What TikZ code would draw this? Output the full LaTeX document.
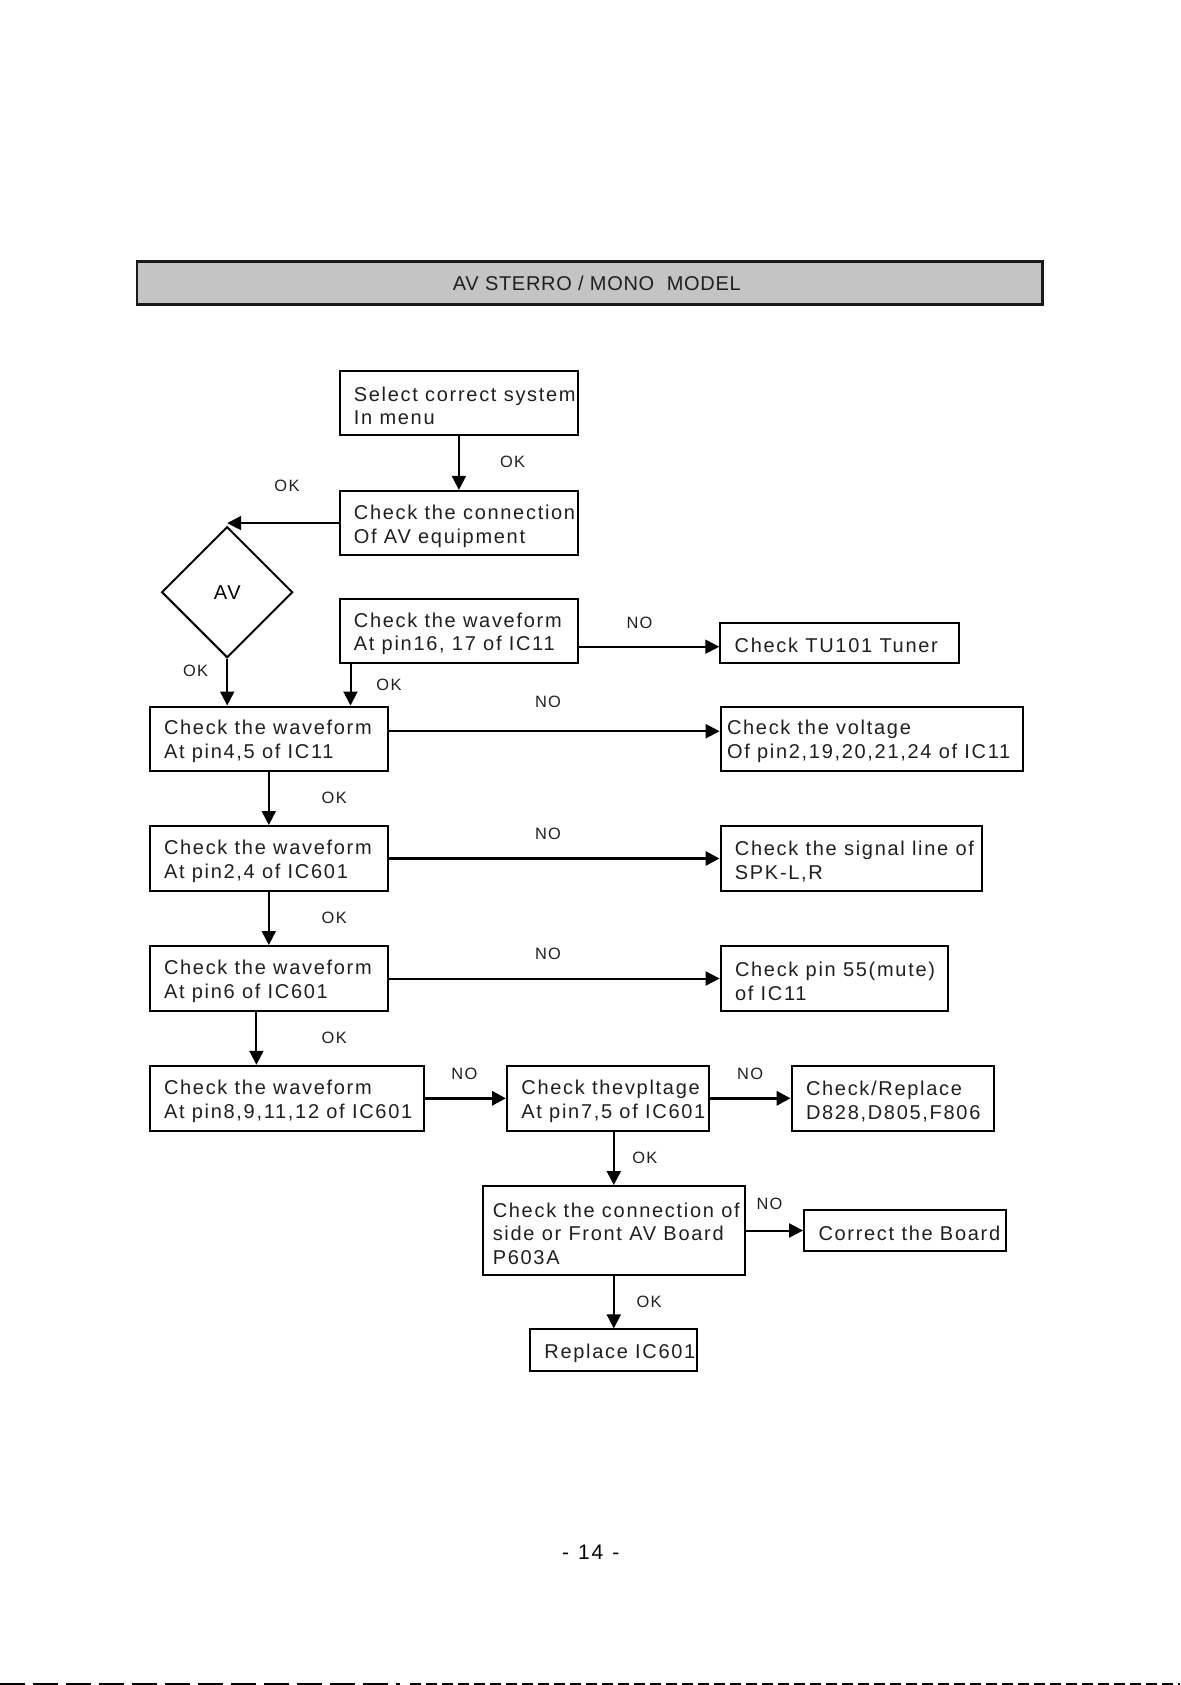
\documentclass[tikz,border=0pt]{standalone}
\usepackage{fontspec}
\setmainfont{Liberation Sans}[LetterSpace=8.5]
\newfontfamily\titlefont{Liberation Sans}[LetterSpace=3.5]
\usetikzlibrary{arrows.meta,shapes.geometric}
\definecolor{barfill}{RGB}{196,196,196}
\tikzset{
  box/.style={draw, line width=1pt, inner sep=0pt},
  txt/.style={anchor=west, align=left, inner xsep=7.5pt, inner ysep=0pt, yshift=-1.5pt,
    font=\fontsize{10}{11.8}\selectfont, text=black!88},
  lbl/.style={font=\fontsize{8.2}{10}\selectfont, text=black!88},
  arr/.style={line width=1pt, -{Triangle[length=7pt,width=7pt]}},
  heavy/.style={line width=1.6pt},
}
\begin{document}
\begin{tikzpicture}[x=0.5pt, y=-0.5pt]
  \useasboundingbox (0,0) rectangle (1180,1685);
  % heading bar
  \node[draw=black!90, line width=1.4pt, fill=barfill, minimum width=452.8pt,
    minimum height=21.2pt, inner sep=0pt, font=\titlefont\fontsize{10}{12}\selectfont,
    text=black!88] (title) at (589.8,283) {\hspace*{7pt}AV STERRO / MONO\ \ MODEL};

  % boxes
  \node[box, minimum width=119.4pt, minimum height=32.2pt] (sel) at (458.9,402.9) {};
  \node[txt] (selt) at (sel.west) {Select correct system\\In menu};
  \node[box, minimum width=119.4pt, minimum height=32.2pt] (conn) at (458.9,523.1) {};
  \node[txt] (connt) at (conn.west) {Check the connection\\Of AV equipment};
  \node[draw, line width=1pt, diamond, aspect=1, inner sep=0pt, minimum width=65.5pt,
    minimum height=65.5pt, font=\fontsize{10}{12}\selectfont] (av) at (227.2,592.2) {AV};
  \node[box, minimum width=119.4pt, minimum height=32.2pt] (wave1617) at (458.9,630.8) {};
  \node[txt] (wave1617t) at (wave1617.west) {Check the waveform\\At pin16, 17 of IC11};
  \node[box, minimum width=119.2pt, minimum height=20.2pt] (tuner) at (839.5,642.7) {};
  \node[txt] (tunert) at (tuner.west) {Check TU101 Tuner};
  \node[box, minimum width=119.2pt, minimum height=32.1pt] (wave45) at (268.8,738.6) {};
  \node[txt] (wave45t) at (wave45.west) {Check the waveform\\At pin4,5 of IC11};
  \node[box, minimum width=151.2pt, minimum height=32.1pt] (volt) at (871.8,738.6) {};
  \node[txt, inner xsep=3.5pt] (voltt) at (volt.west) {Check the voltage\\Of pin2,19,20,21,24 of IC11};
  \node[box, minimum width=119.2pt, minimum height=32.5pt] (wave24) at (268.8,858.5) {};
  \node[txt] (wave24t) at (wave24.west) {Check the waveform\\At pin2,4 of IC601};
  \node[box, minimum width=130.9pt, minimum height=32.5pt] (spk) at (851.4,858.5) {};
  \node[txt] (spkt) at (spk.west) {Check the signal line of\\SPK-L,R};
  \node[box, minimum width=119.2pt, minimum height=32.5pt] (wave6) at (268.8,978.5) {};
  \node[txt] (wave6t) at (wave6.west) {Check the waveform\\At pin6 of IC601};
  \node[box, minimum width=113.6pt, minimum height=32.5pt] (mute) at (834.2,978.5) {};
  \node[txt] (mutet) at (mute.west) {Check pin 55(mute)\\of IC11};
  \node[box, minimum width=137.3pt, minimum height=32.5pt] (wave812) at (286.9,1098.3) {};
  \node[txt] (wave812t) at (wave812.west) {Check the waveform\\At pin8,9,11,12 of IC601};
  \node[box, minimum width=100.8pt, minimum height=32.5pt] (volt75) at (607.8,1098.3) {};
  \node[txt] (volt75t) at (volt75.west) {Check thevpltage\\At pin7,5 of IC601};
  \node[box, minimum width=101.2pt, minimum height=32.5pt] (diode) at (892.8,1098.3) {};
  \node[txt] (diodet) at (diode.west) {Check/Replace\\D828,D805,F806};
  \node[box, minimum width=130.8pt, minimum height=44.5pt] (front) at (613.8,1230.5) {};
  \node[txt, inner xsep=5.2pt] (frontt) at (front.west) {Check the connection of\\side or Front AV Board\\P603A};
  \node[box, minimum width=100.8pt, minimum height=20.5pt] (board) at (904.9,1230.5) {};
  \node[txt] (boardt) at (board.west) {Correct the Board};
  \node[box, minimum width=83.4pt, minimum height=20.8pt] (ic601) at (613.4,1350.2) {};
  \node[txt] (ic601t) at (ic601.west) {Replace IC601};

  % connectors
  \draw[arr] (sel) -- (conn);
  \draw[arr] (conn.west) -- (conn.west -| av.north);
  \draw[arr] (av.south) -- (av.south |- wave45.north);
  \draw[arr] ([xshift=6pt]wave1617.south west) -- ([xshift=6pt]wave1617.south west |- wave45.north);
  \draw[arr] ([yshift=-2pt]wave1617.east |- tuner.west) -- ([yshift=-2pt]tuner.west);
  \draw[arr] ([yshift=3.7pt]wave45.east) -- ([yshift=3.7pt]volt.west);
  \draw[arr] (wave45) -- (wave24);
  \draw[arr, heavy] (wave24) -- (spk);
  \draw[arr] (wave24) -- (wave6);
  \draw[arr] (wave6) -- (mute);
  \draw[arr] ([xshift=-6.2pt]wave6.south) -- ([xshift=-6.2pt]wave6.south |- wave812.north);
  \draw[arr, heavy] (wave812) -- (volt75);
  \draw[arr, heavy] (volt75) -- (diode);
  \draw[arr] (volt75.south -| front.north) -- (front.north);
  \draw[arr] (front) -- (board);
  \draw[arr] (front.south) -- (front.south |- ic601.north);

  % OK / NO labels
  \node[lbl] (ok1) at (512.6,462) {OK};
  \node[lbl] (ok2) at (287,485.8) {OK};
  \node[lbl] (ok3) at (195.6,670.6) {OK};
  \node[lbl] (ok4) at (389,684.6) {OK};
  \node[lbl] (no1) at (639.5,623.3) {NO};
  \node[lbl] (no2) at (548,701.8) {NO};
  \node[lbl] (ok5) at (334.2,797.4) {OK};
  \node[lbl] (no3) at (548,834) {NO};
  \node[lbl] (ok6) at (334.2,917.8) {OK};
  \node[lbl] (no4) at (548,954.3) {NO};
  \node[lbl] (ok7) at (334.2,1038.2) {OK};
  \node[lbl] (no5) at (464.3,1073.6) {NO};
  \node[lbl] (no6) at (750.1,1073.6) {NO};
  \node[lbl] (ok8) at (644.8,1157.5) {OK};
  \node[lbl] (no7) at (769.5,1203.7) {NO};
  \node[lbl] (ok9) at (649.1,1301.5) {OK};

  % page number and edge of the scan
  \node[font=\fontsize{10.5}{12}\selectfont] (pnum) at (590.7,1552.3) {-\hspace{4.5pt}14\hspace{4.5pt}-};
  \draw[line width=1pt, dash pattern=on 12.5pt off 4pt] (0,1684) -- (400,1684);
  \draw[line width=1pt, dash pattern=on 5.5pt off 2.5pt] (410,1684) -- (1180,1684);
\end{tikzpicture}
\end{document}
